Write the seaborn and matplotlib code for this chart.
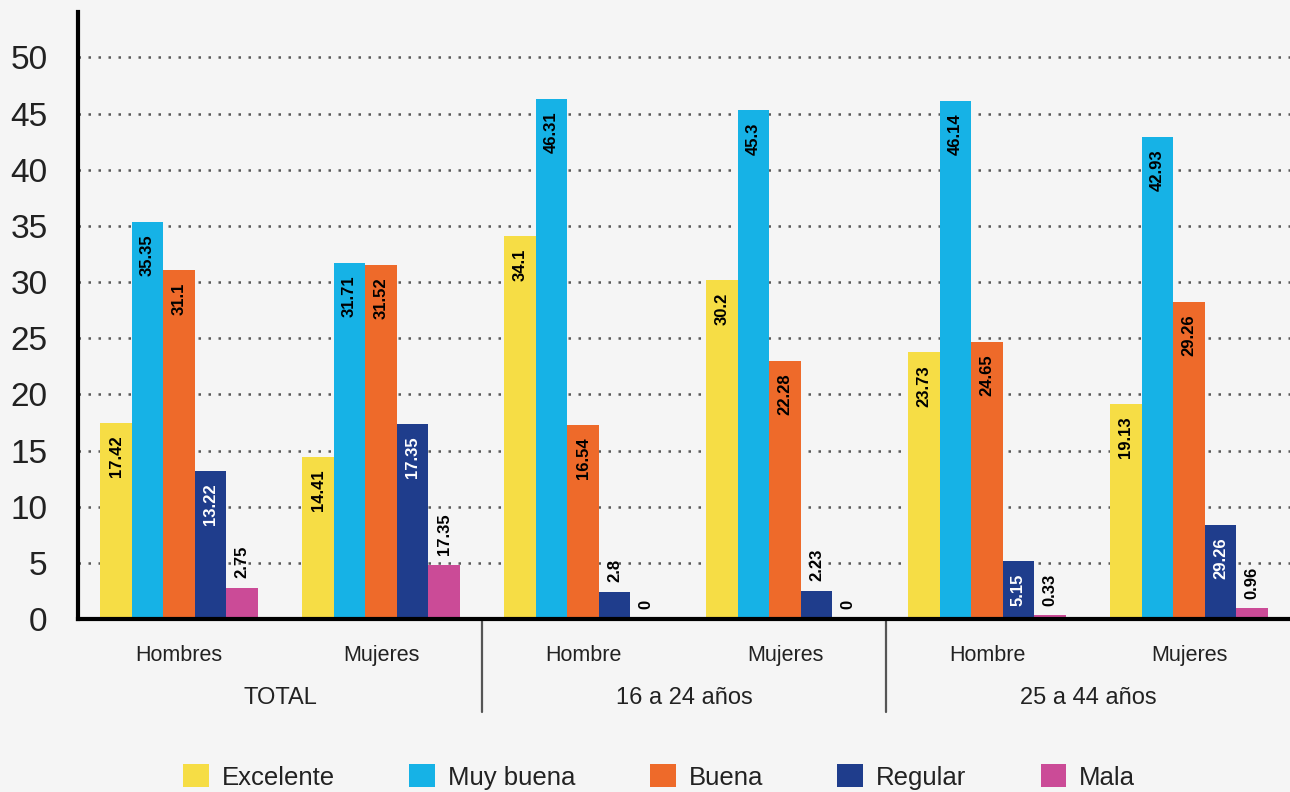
import pandas as pd
import matplotlib.pyplot as plt
import seaborn as sns

# Data
groups = ["TOTAL Hombres", "TOTAL Mujeres", "16-24 Hombre", "16-24 Mujeres", "25-44 Hombre", "25-44 Mujeres"]
group_labels = ["Hombres", "Mujeres", "Hombre", "Mujeres", "Hombre", "Mujeres"]
sections = ["TOTAL", "16 a 24 años", "25 a 44 años"]
series = ["Excelente", "Muy buena", "Buena", "Regular", "Mala"]

excelente = [17.42, 14.41, 34.1, 30.2, 23.73, 19.13]
muy_buena = [35.35, 31.71, 46.31, 45.3, 46.14, 42.93]
buena = [31.1, 31.52, 17.3, 23.0, 24.65, 28.2]
regular = [13.22, 17.35, 2.4, 2.5, 5.15, 8.4]
mala = [2.75, 4.8, 0, 0, 0.33, 0.96]

# printed labels (some differ from bar heights in the original)
excelente_lbl = ["17.42", "14.41", "34.1", "30.2", "23.73", "19.13"]
muy_buena_lbl = ["35.35", "31.71", "46.31", "45.3", "46.14", "42.93"]
buena_lbl = ["31.1", "31.52", "16.54", "22.28", "24.65", "29.26"]
regular_lbl = ["13.22", "17.35", "2.8", "2.23", "5.15", "29.26"]
mala_lbl = ["2.75", "17.35", "0", "0", "0.33", "0.96"]

colors = ["#F6DD45", "#16B2E6", "#EE6A2A", "#1F3D8C", "#CB4B97"]

values = [excelente, muy_buena, buena, regular, mala]
labels = [excelente_lbl, muy_buena_lbl, buena_lbl, regular_lbl, mala_lbl]

rows = []
for s, vals in zip(series, values):
    for g, v in zip(groups, vals):
        rows.append({"grupo": g, "estado": s, "valor": v})
df = pd.DataFrame(rows)

sns.set_style("white")
plt.rcParams["font.family"] = ["Liberation Sans", "DejaVu Sans"]
bg = "#F5F5F5"

fig = plt.figure(figsize=(12.9, 7.92), dpi=100, facecolor=bg)
ax = fig.add_axes([0.0605, 0.2184, 0.9395, 0.7666])
ax.set_facecolor(bg)

sns.barplot(data=df, x="grupo", y="valor", hue="estado", order=groups,
            hue_order=series, palette=colors, saturation=1, width=0.78,
            linewidth=0, ax=ax, legend=True)

ax.set_xlim(-0.5, 5.5)
ax.set_ylim(0, 54.05)
ax.set_yticks(range(0, 51, 5))
ax.yaxis.grid(True, linestyle=(0, (1, 3)), linewidth=1.8, color="#5a5a5a")
ax.set_axisbelow(True)

for side in ["top", "right"]:
    ax.spines[side].set_visible(False)
ax.spines["left"].set_linewidth(3)
ax.spines["bottom"].set_linewidth(3)
ax.spines["left"].set_color("black")
ax.spines["bottom"].set_color("black")

ax.tick_params(axis="y", length=0, pad=22, labelsize=24, labelcolor="#222222")
ax.set_xticks(range(len(groups)))
ax.set_xticklabels(group_labels)
ax.tick_params(axis="x", length=0, pad=19, labelsize=15.5, labelcolor="#222222")
ax.set_xlabel("")
ax.set_ylabel("")

# section labels and dividers
for i, sec in enumerate(sections):
    ax.text(2 * i + 0.5, -0.13, sec, transform=ax.get_xaxis_transform(),
            ha="center", va="center", fontsize=17, color="#222222")
for xd in [1.5, 3.5]:
    ax.axvline(xd, ymin=-0.153, ymax=0, color="#555555", lw=1.6, clip_on=False)

# value labels
for cont, lbls, si in zip(ax.containers, labels, range(len(series))):
    for bar, txt in zip(cont, lbls):
        h = bar.get_height()
        xc = bar.get_x() + bar.get_width() / 2
        if h < 5:
            ax.annotate(txt, (xc, h), xytext=(0, 7), textcoords="offset points",
                        rotation=90, ha="center", va="bottom", fontsize=12,
                        fontweight="bold", color="black")
        else:
            ax.annotate(txt, (xc, h), xytext=(0, -9), textcoords="offset points",
                        rotation=90, ha="center", va="top", fontsize=12,
                        fontweight="bold",
                        color="white" if series[si] == "Regular" else "black")

# legend
handles, leg_labels = ax.get_legend_handles_labels()
ax.get_legend().remove()
fig.legend(handles, leg_labels, loc="center", bbox_to_anchor=(0.511, 0.019),
           ncol=5, frameon=False, fontsize=18.5, handlelength=1.0, handleheight=1.0,
           handletextpad=0.5, columnspacing=2.9, labelcolor="#222222")

plt.savefig("out.png", dpi=100, facecolor=bg)
